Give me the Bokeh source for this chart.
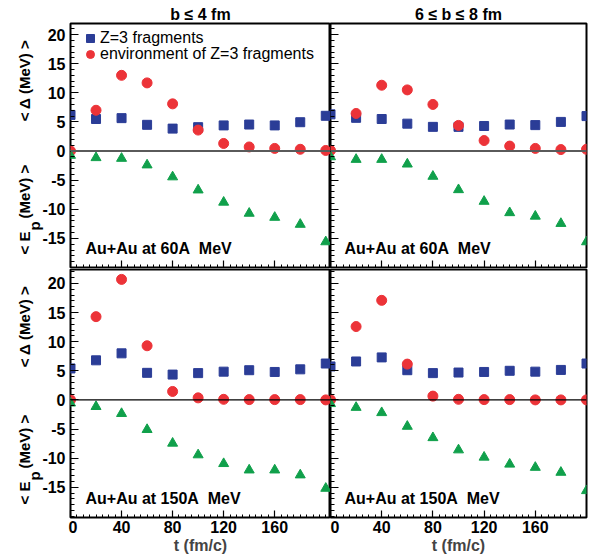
from bokeh.plotting import figure
from bokeh.layouts import column, row
from bokeh.models import Span, Label, Legend, LegendItem, FixedTicker, Range1d, ColumnDataSource
from bokeh.core.properties import value
from bokeh.embed import file_html
from bokeh.resources import INLINE

# ---------------- data ----------------
t = [0, 20, 40, 60, 80, 100, 120, 140, 160, 180, 200]

# Au+Au 60A MeV, b <= 4 fm
frag_60_b4 = [6.2, 5.5, 5.65, 4.5, 3.85, 4.1, 4.4, 4.55, 4.4, 4.95, 6.05]
env_60_b4 = [0.0, 7.0, 13.0, 11.7, 8.1, 3.6, 1.3, 0.7, 0.45, 0.3, 0.1]
ep_60_b4 = [-0.75, -1.15, -1.27, -2.4, -4.45, -6.7, -8.8, -10.7, -11.4, -12.6, -15.6]

# Au+Au 60A MeV, 6 <= b <= 8 fm
frag_60_b68 = [6.3, 5.7, 5.5, 4.7, 4.15, 4.15, 4.3, 4.55, 4.45, 5.0, 6.0]
env_60_b68 = [0.1, 6.45, 11.3, 10.5, 8.0, 4.4, 1.8, 0.85, 0.45, 0.25, 0.3]
ep_60_b68 = [-1.0, -1.45, -1.45, -2.25, -4.35, -6.65, -8.65, -10.6, -11.2, -12.45, -15.6]

# Au+Au 150A MeV, b <= 4 fm
frag_150_b4 = [5.4, 6.8, 8.0, 4.65, 4.35, 4.6, 4.85, 5.1, 4.8, 5.25, 6.25]
env_150_b4 = [0.0, 14.3, 20.7, 9.3, 1.45, 0.35, 0.1, 0.05, 0.05, 0.05, 0.0]
ep_150_b4 = [-0.55, -1.15, -2.35, -5.1, -7.45, -9.45, -10.95, -12.05, -12.05, -12.9, -15.2]

# Au+Au 150A MeV, 6 <= b <= 8 fm
frag_150_b68 = [5.75, 6.6, 7.3, 5.1, 4.6, 4.7, 4.8, 5.0, 4.85, 5.15, 6.25]
env_150_b68 = [0.0, 12.6, 17.1, 6.15, 0.65, 0.1, 0.05, 0.05, 0.0, 0.0, 0.0]
ep_150_b68 = [-0.65, -1.3, -2.2, -4.55, -6.5, -8.6, -9.85, -11.05, -11.6, -12.45, -15.6]

col_titles = ["b \u2264 4 fm", "6 \u2264 b \u2264 8 fm"]
row_notes = ["Au+Au at 60A\u00a0 MeV", "Au+Au at 150A\u00a0 MeV"]
legend_labels = ["Z=3 fragments", "environment of Z=3 fragments"]
x_ticks = [0, 40, 80, 120, 160]
y_ticks = [-15, -10, -5, 0, 5, 10, 15, 20]
y_tick_labels = [str(v) for v in y_ticks]

BLUE = "#2b3d97"
RED = "#ec3338"
GREEN = "#10a04b"
FONT = "Liberation Sans"

LAB_W = 68          # strip left of the left panels (y titles + tick labels)
F1_BL = 2           # left border of the left panels
FW = [260, 256]
FH = [244, 248]
BT = [23, 0]
BB = [2, 42]
XR = [(0, 203.7), (0, 200)]
YR = [(-20, 21.9), (-20.2, 22.4)]

panels = [
    [(frag_60_b4, env_60_b4, ep_60_b4), (frag_60_b68, env_60_b68, ep_60_b68)],
    [(frag_150_b4, env_150_b4, ep_150_b4), (frag_150_b68, env_150_b68, ep_150_b68)],
]


def hide_labels(ax, ticks):
    ax.major_label_overrides = {v: "" for v in ticks}
    ax.major_label_text_font_size = "0px"
    ax.major_label_standoff = 0


rows = []
for r in range(2):
    # left strip: y tick labels (on the panel's y scale) and rotated y titles
    lab = figure(frame_width=LAB_W, frame_height=FH[r],
                 x_range=Range1d(0, LAB_W), y_range=Range1d(*YR[r]),
                 x_axis_location=None, y_axis_location=None,
                 output_backend="svg", toolbar_location=None,
                 min_border_left=0, min_border_right=0,
                 min_border_top=BT[r], min_border_bottom=BB[r],
                 outline_line_color=None, background_fill_color="white",
                 border_fill_color="white")
    lab.xgrid.visible = False
    lab.ygrid.visible = False
    tick_src = ColumnDataSource(dict(y=y_ticks, text=y_tick_labels,
                                     x=[LAB_W - 3] * len(y_ticks)))
    lab.text(x="x", y="y", text="text", source=tick_src,
             text_align="right", text_baseline="middle",
             text_font=value(FONT), text_font_style="bold", text_font_size="16px",
             text_color="black")
    lab_kw = dict(x_units="screen", y_units="screen", angle=90, angle_units="deg",
                  text_font=FONT, text_font_style="bold",
                  text_font_size="15px", text_color="black", text_baseline="middle")
    lab.add_layout(Label(x=24, y=FH[r] - 57, text="< \u0394 (MeV) >", text_align="center", **lab_kw))
    lab.add_layout(Label(x=24, y=13, text="< E", text_align="left", **lab_kw))
    lab.add_layout(Label(x=34, y=37, text="p", text_align="left", **lab_kw))
    lab.add_layout(Label(x=24, y=49, text="(MeV) >", text_align="left", **lab_kw))
    row_figs = [lab]

    for c in range(2):
        frag, env, ep = panels[r][c]
        f = figure(
            frame_width=FW[c], frame_height=FH[r],
            x_range=Range1d(*XR[c]), y_range=Range1d(*YR[r]),
            output_backend="svg", toolbar_location=None,
            min_border_left=F1_BL if c == 0 else 0,
            min_border_right=0 if c == 0 else 18,
            min_border_top=BT[r], min_border_bottom=BB[r],
            background_fill_color="white", border_fill_color="white",
            outline_line_color="black", outline_line_width=2,
        )
        f.xgrid.visible = False
        f.ygrid.visible = False

        if r == 0:
            f.title.text = col_titles[c]
            f.title.align = "center"
            f.title.text_font = FONT
            f.title.text_font_style = "bold"
            f.title.text_font_size = "16px"
            f.title.text_color = "black"
            f.title.standoff = 1

        f.add_layout(Span(location=0, dimension="width",
                          line_color="#5a5a5a" if r == 0 else "black",
                          line_width=2 if r == 0 else 1.3))

        sq = f.scatter(t, frag, marker="square", size=9, color=BLUE)
        ci = f.scatter(t, env, marker="circle", size=10, color=RED)
        f.scatter(t, ep, marker="triangle", size=10, color=GREEN)

        for ax in (f.xaxis[0], f.yaxis[0]):
            ax.axis_line_color = None
            ax.major_tick_out = 0
            ax.minor_tick_out = 0
            ax.major_tick_line_color = "black"
            ax.minor_tick_line_color = "black"
            ax.major_tick_line_width = 1.2
            ax.minor_tick_line_width = 1
            ax.major_label_text_font = FONT
            ax.major_label_text_font_style = "bold"
            ax.major_label_text_font_size = "16px"
            ax.major_label_text_color = "black"
        f.xaxis.ticker = FixedTicker(ticks=x_ticks, minor_ticks=list(range(0, 205, 5)))
        f.yaxis.ticker = FixedTicker(ticks=y_ticks, minor_ticks=list(range(-20, 23)))
        f.xaxis.major_tick_in = 7
        f.xaxis.minor_tick_in = 3
        f.yaxis.major_tick_in = 8
        f.yaxis.minor_tick_in = 4
        f.xaxis.major_label_standoff = 3
        hide_labels(f.yaxis[0], y_ticks)

        if r == 0:
            hide_labels(f.xaxis[0], x_ticks)
        else:
            f.xaxis.axis_label = "t (fm/c)"
            f.xaxis.axis_label_text_font = FONT
            f.xaxis.axis_label_text_font_style = "bold"
            f.xaxis.axis_label_text_font_size = "16px"
            f.xaxis.axis_label_standoff = 1

        f.add_layout(Label(x=15 if c == 0 else 14, y=19, x_units="screen", y_units="screen",
                           text=row_notes[r], text_align="left", text_baseline="middle",
                           text_font=FONT, text_font_style="bold", text_font_size="16px",
                           text_color="black"))

        if r == 0 and c == 0:
            leg_kw = dict(orientation="vertical", background_fill_alpha=0,
                          border_line_color=None, padding=5, margin=0, spacing=0,
                          glyph_width=20, glyph_height=20, label_height=16,
                          label_standoff=0, label_text_font=FONT,
                          label_text_font_size="16px", label_text_color="black")
            leg1 = Legend(items=[LegendItem(label=legend_labels[0], renderers=[sq])],
                          location=(10, FH[r] - 24.5), **leg_kw)
            leg2 = Legend(items=[LegendItem(label=legend_labels[1], renderers=[ci])],
                          location=(10, FH[r] - 40.5), **leg_kw)
            f.add_layout(leg1)
            f.add_layout(leg2)
        row_figs.append(f)
    rows.append(row(*row_figs, spacing=0))

layout = column(*rows, spacing=0)

open("out.html", "w").write(file_html(layout, INLINE))
